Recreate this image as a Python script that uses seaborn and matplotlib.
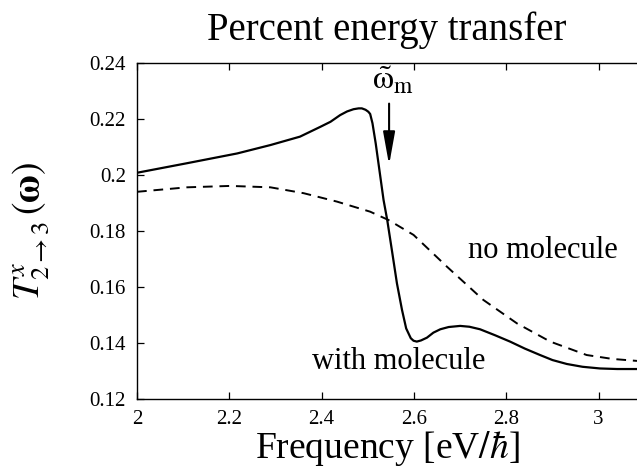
import numpy as np
import pandas as pd
import matplotlib
matplotlib.use("Agg")
import matplotlib.pyplot as plt
import seaborn as sns

# Data
freq_mol = [2.0, 2.108, 2.217, 2.289, 2.353, 2.397, 2.419, 2.440, 2.455, 2.469, 2.480,
            2.487, 2.495, 2.501, 2.505, 2.510, 2.517, 2.525, 2.534, 2.542, 2.552, 2.563,
            2.574, 2.583, 2.593, 2.599, 2.606, 2.615, 2.628, 2.642, 2.657, 2.675, 2.700,
            2.720, 2.743, 2.775, 2.808, 2.840, 2.873, 2.900, 2.931, 2.965, 3.003, 3.040,
            3.083]
t_mol = [0.2008, 0.2042, 0.2077, 0.2107, 0.2137, 0.2172, 0.2190, 0.2214, 0.2227, 0.2235,
         0.2238, 0.2238, 0.2233, 0.2226, 0.2218, 0.2185, 0.2113, 0.2018, 0.1911, 0.1839,
         0.1732, 0.1613, 0.1518, 0.1452, 0.1417, 0.1408, 0.1405, 0.1409, 0.1419, 0.1437,
         0.1449, 0.1457, 0.1461, 0.1458, 0.1449, 0.1428, 0.1405, 0.1380, 0.1357, 0.1339,
         0.1325, 0.1315, 0.1309, 0.1307, 0.1307]

freq_nomol = [2.0, 2.108, 2.202, 2.289, 2.361, 2.433, 2.505, 2.545, 2.599, 2.671, 2.750,
              2.823, 2.895, 2.974, 3.030, 3.083]
t_nomol = [0.1940, 0.1956, 0.1961, 0.1956, 0.1935, 0.1905, 0.1869, 0.1839, 0.1786,
           0.1673, 0.1554, 0.1470, 0.1405, 0.1357, 0.1343, 0.1336]

x_ticks = [2.0, 2.2, 2.4, 2.6, 2.8, 3.0]
x_ticklabels = ["2", "2.2", "2.4", "2.6", "2.8", "3"]
y_ticks = [0.12, 0.14, 0.16, 0.18, 0.20, 0.22, 0.24]
y_ticklabels = ["0.12", "0.14", "0.16", "0.18", "0.2", "0.22", "0.24"]

sns.set_theme(style="ticks")
plt.rcParams["font.family"] = ["Liberation Serif", "DejaVu Serif"]
plt.rcParams["mathtext.fontset"] = "stix"
plt.rcParams["text.color"] = "black"
plt.rcParams["axes.labelcolor"] = "black"

df_mol = pd.DataFrame({"freq": freq_mol, "T": t_mol})
df_nomol = pd.DataFrame({"freq": freq_nomol, "T": t_nomol})

fig = plt.figure(figsize=(6.37, 4.72), dpi=100)
ax = fig.add_axes([0.2151, 0.1547, 0.7849, 0.7118])

sns.lineplot(data=df_mol, x="freq", y="T", ax=ax, color="black", linewidth=1.6,
             sort=False, estimator=None)
sns.lineplot(data=df_nomol, x="freq", y="T", ax=ax, color="black", linewidth=1.4,
             sort=False, estimator=None, linestyle=(0, (5, 3.5)))

ax.set_xlim(2.0, 3.083)
ax.set_ylim(0.12, 0.24)
ax.set_xticks(x_ticks)
ax.set_xticklabels(x_ticklabels)
ax.set_yticks(y_ticks)
ax.set_yticklabels(y_ticklabels)
ax.tick_params(direction="in", top=True, right=False, length=5, width=0.9,
               labelsize=15, colors="black", pad=8)
ax.spines["right"].set_visible(False)
for s in ["left", "top", "bottom"]:
    ax.spines[s].set_linewidth(1.0)
    ax.spines[s].set_color("black")

ax.set_xlabel(r"Frequency [eV$/\hbar$]", fontsize=27, labelpad=0, color="black")
ax.set_ylabel(r"$T^{x}_{2\to 3}\,(\mathbf{\omega})$", fontsize=27, labelpad=28,
              color="black")
fig.text(0.607, 0.935, "Percent energy transfer", fontsize=28, ha="center",
         va="center", color="black")

ax.text(2.717, 0.1732, "no molecule", fontsize=22, ha="left", va="center", color="black")
ax.text(2.378, 0.1333, "with molecule", fontsize=22, ha="left", va="center", color="black")

ax.annotate("", xy=(2.546, 0.2036), xytext=(2.546, 0.2255),
            arrowprops=dict(arrowstyle="-|>,head_width=0.18,head_length=1.0",
                            color="black", lw=1.5, mutation_scale=20,
                            shrinkA=0, shrinkB=0))
ax.text(2.553, 0.2335, r"$\tilde{\mathrm{\omega}}_{\rm m}$", fontsize=24,
        ha="center", va="center", color="black")

fig.savefig("out.png", dpi=100)
